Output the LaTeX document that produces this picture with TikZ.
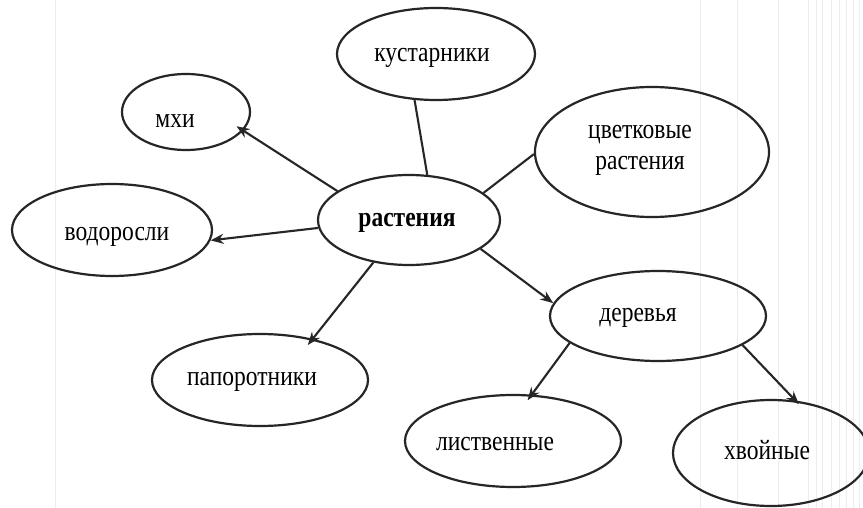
\documentclass[tikz,border=0pt]{standalone}
\usepackage{fontspec}
\setmainfont{Liberation Serif}[FakeStretch=0.84]
\usetikzlibrary{shapes.geometric,arrows.meta}
\begin{document}
\begin{tikzpicture}[x=1pt,y=-1pt,
  ell/.style={draw=black!85, line width=2.2pt, ellipse, inner sep=0pt},
  txt/.style={font=\fontsize{28}{31}\selectfont, align=center, text=black},
  link/.style={draw=black!85, line width=2.1pt},
  arr/.style={link, -{Stealth[length=13pt,width=10pt]}},
  scan/.style={draw=black!7, line width=0.8pt}]
\useasboundingbox (0,0) rectangle (863,508);
\fill[white] (0,0) rectangle (863,508);
% faint scan lines
\foreach \sx in {55,700,737,778,808,816,822,831,839,846,853,859}
  \draw[scan] (\sx,0) -- (\sx,508);
% nodes
\node[ell, minimum width=198pt, minimum height=92pt,
  label={[txt, shift={(-4,4)}]center:кустарники}] (kust) at (436,54) {};
\node[ell, minimum width=128pt, minimum height=76pt,
  label={[txt, shift={(-11,9)}]center:мхи}] (mhi) at (186,112) {};
\node[ell, minimum width=234pt, minimum height=130pt,
  label={[txt, shift={(-12,-2)}]center:цветковые\\растения}] (cvet) at (652,152) {};
\node[ell, minimum width=200pt, minimum height=92pt,
  label={[txt, shift={(5,7)}]center:водоросли}] (vodo) at (112,230) {};
\node[ell, minimum width=182pt, minimum height=90pt,
  label={[txt, font=\fontsize{28}{31}\selectfont\bfseries, shift={(-2,3)}]center:растения}] (rast) at (409,220) {};
\node[ell, minimum width=216pt, minimum height=90pt,
  label={[txt, shift={(-20,2)}]center:деревья}] (der) at (658,316) {};
\node[ell, minimum width=216pt, minimum height=92pt,
  label={[txt, shift={(-8,2)}]center:папоротники}] (pap) at (260,380) {};
\node[ell, minimum width=216pt, minimum height=92pt,
  label={[txt, shift={(-18,3)}]center:лиственные}] (list) at (513,441) {};
\node[ell, minimum width=196pt, minimum height=106pt,
  label={[txt, shift={(-4,-3)}]center:хвойные}] (hvoi) at (771,453) {};
% connectors
\draw[link] (rast.68) -- (kust.245);
\draw[link] (rast.20) -- (cvet.181);
\draw[arr, shorten >=-8pt] (rast.158) -- (mhi.-18);
\draw[arr] (rast.185) -- (vodo.-6);
\draw[arr, shorten >=-8pt] (rast.230) -- (pap.38);
\draw[arr] (rast.338) -- (der.173);
\draw[arr, shorten >=-7pt] (der.197) -- (list.68);
\draw[arr, shorten >=-5pt] (der.341) -- (hvoi.65);
\end{tikzpicture}
\end{document}
